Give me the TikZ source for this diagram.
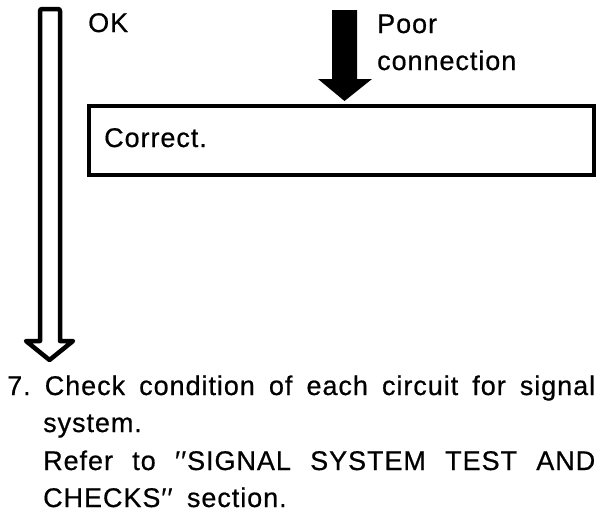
\documentclass[tikz,border=0pt]{standalone}
\usepackage{fontspec}
\setmainfont{Liberation Sans}[LetterSpace=3.5,FakeBold=0.6]
\begin{document}
\frenchspacing
\begin{tikzpicture}[x=1pt,y=-1pt,
  lbl/.style={anchor=base west,inner sep=0pt,font=\fontsize{27}{31}\selectfont},
  hollowarrow/.style={draw=black,line width=4.5pt,line join=round,fill=white},
  solidarrow/.style={fill=black,draw=none},
  framebox/.style={draw=black,line width=3.5pt,minimum width=505pt,minimum height=69pt,inner sep=0pt}]
\useasboundingbox (0,0) rectangle (605,512);
% hollow OK arrow
\draw[hollowarrow] (40,341) -- (40,11) [rounded corners=2pt] -- (40,9) -- (60,9) [sharp corners] -- (60,341) -- (73,341) -- (49.5,360) -- (26,341) -- cycle;
% solid arrow
\fill[solidarrow] (332,10) -- (357,10) -- (357,79) -- (372,79) -- (344.5,101) -- (318,79) -- (332,79) -- cycle;
% box
\node[framebox] (box) at (341.5,140.5) {};
\node[lbl] (correct) at (104,147) {Correct.};
\node[lbl] (ok) at (88,32) {OK};
\node[lbl] (poor) at (377,33) {Poor};
\node[lbl] (conn) at (377,70) {connection};
% bottom text
\node[lbl] (l1) at (7,395) {\makebox[588pt][s]{7. Check condition of each circuit for signal}};
\node[lbl] (l2) at (43,432) {system.};
\node[lbl] (l3) at (43,470) {\makebox[552pt][s]{Refer to ′\kern1pt′SIGNAL SYSTEM TEST AND}};
\node[lbl] (l4) at (43,507) {CHECKS′\kern1pt′\hspace{6pt} section.};
\end{tikzpicture}
\end{document}
